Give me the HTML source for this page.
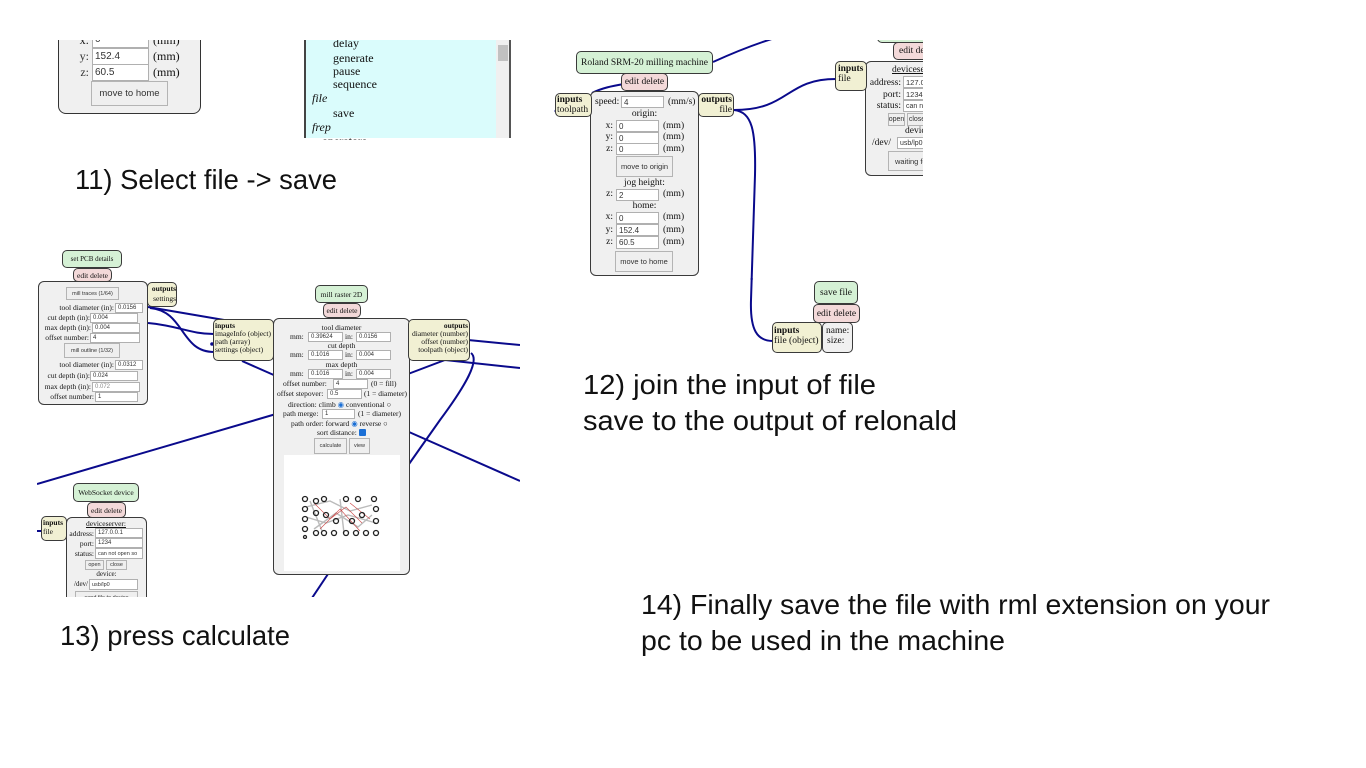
<!DOCTYPE html>
<html><head><meta charset="utf-8">
<style>
html,body{margin:0;padding:0;background:#fff;}
body{width:1366px;height:768px;position:relative;overflow:hidden;}
.clip{position:absolute;left:0;top:0;width:1366px;height:768px;}
.a{position:absolute;box-sizing:border-box;}
.box{position:absolute;box-sizing:border-box;border:1px solid #3a3a3a;border-radius:5px;}
.g{background:#d5f1d5;}
.p{background:#f3d9d9;}
.y{background:#f1f0d3;}
.b{background:#f0f0f0;}
.t{position:absolute;white-space:nowrap;font-family:"Liberation Serif",serif;line-height:1;color:#111;}
.c{display:flex;align-items:center;justify-content:center;font-family:"Liberation Serif",serif;color:#111;white-space:nowrap;}
.in{position:absolute;box-sizing:border-box;background:#fff;border:1px solid #b0b0b0;font-family:"Liberation Sans",sans-serif;color:#333;white-space:nowrap;overflow:hidden;padding-left:2px;display:flex;align-items:center;}
.bt{position:absolute;box-sizing:border-box;background:#efefef;border:1px solid #b4b4b4;font-family:"Liberation Sans",sans-serif;color:#333;white-space:nowrap;display:flex;align-items:center;justify-content:center;}
</style></head><body>

<!-- ============ Crop A: top-left ============ -->
<div class="clip" style="clip-path:inset(40px 846px 628px 40px);">
  <div class="box b" style="left:58px;top:10px;width:143px;height:104px;border-radius:8px;border:1.5px solid #333;"></div>
  <div class="t" style="left:70px;top:34px;width:19px;text-align:right;font-size:12px;">x:</div>
  <div class="in" style="left:92px;top:31px;width:57px;height:17px;font-size:10px;">0</div>
  <div class="t" style="left:153px;top:34px;font-size:12px;">(mm)</div>
  <div class="t" style="left:70px;top:50px;width:19px;text-align:right;font-size:12px;color:#333;">y:</div>
  <div class="in" style="left:92px;top:48px;width:57px;height:17px;font-size:10px;">152.4</div>
  <div class="t" style="left:153px;top:50px;font-size:12px;">(mm)</div>
  <div class="t" style="left:70px;top:66px;width:19px;text-align:right;font-size:12px;color:#333;">z:</div>
  <div class="in" style="left:92px;top:64px;width:57px;height:17px;font-size:10px;">60.5</div>
  <div class="t" style="left:153px;top:66px;font-size:12px;">(mm)</div>
  <div class="bt" style="left:91px;top:81px;width:77px;height:25px;font-size:9.5px;">move to home</div>

  <div class="a" style="left:304px;top:20px;width:207px;height:118px;background:#dafcfc;border-left:2px solid #444;border-right:2px solid #555;"></div>
  <div class="a" style="left:496px;top:20px;width:13px;height:118px;background:#f0f0f0;"></div>
  <div class="a" style="left:498px;top:45px;width:10px;height:16px;background:#c1c1c1;"></div>
  <div class="t" style="left:333px;top:37px;font-size:12px;">delay</div>
  <div class="t" style="left:333px;top:52px;font-size:12px;">generate</div>
  <div class="t" style="left:333px;top:65px;font-size:12px;">pause</div>
  <div class="t" style="left:333px;top:78px;font-size:12px;">sequence</div>
  <div class="t" style="left:312px;top:92px;font-size:12px;font-style:italic;">file</div>
  <div class="t" style="left:333px;top:107px;font-size:12px;">save</div>
  <div class="t" style="left:312px;top:121px;font-size:12px;font-style:italic;">frep</div>
  <div class="t" style="left:322px;top:135px;font-size:12px;">operators</div>
</div>

<!-- ============ Crop B: top-right ============ -->
<div class="clip" style="clip-path:inset(40px 443px 488px 550px);">
  <svg class="a" style="left:0;top:0;" width="1366" height="768">
    <g fill="none" stroke="#0a0a8c" stroke-width="2">
      <path d="M713,62 C735,52 752,45 775,38"/>
      <path d="M592,93 C602,88 612,86 624,84"/>
      <path d="M734,110 C790,110 785,79 836,79"/>
      <path d="M734,110 C752,112 756,130 755,175 L751,300 C750,330 757,341 773,341"/>
    </g>
    <circle cx="556" cy="111" r="1.5" fill="#0a0a8c"/>
  </svg>
  <div class="box g c" style="left:576px;top:51px;width:137px;height:23px;font-size:9.5px;">Roland SRM-20 milling machine</div>
  <div class="box b" style="left:590px;top:91px;width:109px;height:185px;border-radius:6px;"></div>
  <div class="box p c" style="left:621px;top:73px;width:47px;height:18px;font-size:9.5px;">edit delete</div>
  <div class="box y" style="left:555px;top:93px;width:37px;height:24px;"></div>
  <div class="t" style="left:557px;top:96px;font-size:9.5px;font-weight:bold;">inputs</div>
  <div class="t" style="left:557px;top:106px;font-size:9.5px;">toolpath</div>
  <div class="box y" style="left:698px;top:93px;width:36px;height:24px;"></div>
  <div class="t" style="left:698px;top:96px;width:34px;text-align:right;font-size:9.5px;font-weight:bold;">outputs</div>
  <div class="t" style="left:698px;top:106px;width:34px;text-align:right;font-size:9.5px;">file</div>

  <div class="t" style="left:595px;top:98px;font-size:9.5px;">speed:</div>
  <div class="in" style="left:621px;top:96px;width:43px;height:12px;font-size:8px;">4</div>
  <div class="t" style="left:668px;top:98px;font-size:9.5px;">(mm/s)</div>
  <div class="t" style="left:590px;top:110px;width:109px;text-align:center;font-size:9.5px;">origin:</div>
  <div class="t" style="left:600px;top:122px;width:13px;text-align:right;font-size:9.5px;">x:</div>
  <div class="in" style="left:616px;top:120px;width:43px;height:12px;font-size:8px;">0</div>
  <div class="t" style="left:663px;top:122px;font-size:9.5px;">(mm)</div>
  <div class="t" style="left:600px;top:133px;width:13px;text-align:right;font-size:9.5px;">y:</div>
  <div class="in" style="left:616px;top:132px;width:43px;height:12px;font-size:8px;">0</div>
  <div class="t" style="left:663px;top:133px;font-size:9.5px;">(mm)</div>
  <div class="t" style="left:600px;top:145px;width:13px;text-align:right;font-size:9.5px;">z:</div>
  <div class="in" style="left:616px;top:143px;width:43px;height:12px;font-size:8px;">0</div>
  <div class="t" style="left:663px;top:145px;font-size:9.5px;">(mm)</div>
  <div class="bt" style="left:616px;top:156px;width:57px;height:21px;font-size:7.5px;">move to origin</div>
  <div class="t" style="left:590px;top:179px;width:109px;text-align:center;font-size:9.5px;">jog height:</div>
  <div class="t" style="left:600px;top:190px;width:13px;text-align:right;font-size:9.5px;">z:</div>
  <div class="in" style="left:616px;top:189px;width:43px;height:12px;font-size:8px;">2</div>
  <div class="t" style="left:663px;top:190px;font-size:9.5px;">(mm)</div>
  <div class="t" style="left:590px;top:202px;width:109px;text-align:center;font-size:9.5px;">home:</div>
  <div class="t" style="left:600px;top:213px;width:13px;text-align:right;font-size:9.5px;">x:</div>
  <div class="in" style="left:616px;top:212px;width:43px;height:12px;font-size:8px;">0</div>
  <div class="t" style="left:663px;top:213px;font-size:9.5px;">(mm)</div>
  <div class="t" style="left:600px;top:226px;width:13px;text-align:right;font-size:9.5px;">y:</div>
  <div class="in" style="left:616px;top:224px;width:43px;height:12px;font-size:8px;">152.4</div>
  <div class="t" style="left:663px;top:226px;font-size:9.5px;">(mm)</div>
  <div class="t" style="left:600px;top:238px;width:13px;text-align:right;font-size:9.5px;">z:</div>
  <div class="in" style="left:616px;top:236px;width:43px;height:13px;font-size:8px;">60.5</div>
  <div class="t" style="left:663px;top:238px;font-size:9.5px;">(mm)</div>
  <div class="bt" style="left:615px;top:251px;width:58px;height:21px;font-size:7.5px;">move to home</div>

  <!-- right device panel -->
  <div class="box g" style="left:877px;top:25px;width:70px;height:18px;"></div>
  <div class="box b" style="left:865px;top:61px;width:80px;height:115px;border-radius:6px;"></div>
  <div class="box p c" style="left:893px;top:42px;width:45px;height:18px;font-size:9.5px;justify-content:flex-start;padding-left:5px;">edit delete</div>
  <div class="box y" style="left:835px;top:61px;width:32px;height:30px;"></div>
  <div class="t" style="left:838px;top:65px;font-size:9.5px;font-weight:bold;">inputs</div>
  <div class="t" style="left:838px;top:75px;font-size:9.5px;">file</div>
  <div class="t" style="left:892px;top:66px;font-size:9.5px;text-decoration:underline;">deviceserver:</div>
  <div class="t" style="left:868px;top:79px;width:33px;text-align:right;font-size:9.5px;">address:</div>
  <div class="in" style="left:903px;top:76px;width:40px;height:12px;font-size:7.5px;">127.0.0.1</div>
  <div class="t" style="left:868px;top:91px;width:33px;text-align:right;font-size:9.5px;">port:</div>
  <div class="in" style="left:903px;top:88px;width:40px;height:12px;font-size:7.5px;">1234</div>
  <div class="t" style="left:868px;top:102px;width:33px;text-align:right;font-size:9.5px;">status:</div>
  <div class="in" style="left:903px;top:100px;width:40px;height:12px;font-size:7px;">can not open</div>
  <div class="bt" style="left:888px;top:113px;width:17px;height:13px;font-size:7px;">open</div>
  <div class="bt" style="left:907px;top:113px;width:20px;height:13px;font-size:7px;">close</div>
  <div class="t" style="left:905px;top:127px;font-size:9.5px;">device:</div>
  <div class="t" style="left:872px;top:139px;font-size:9.5px;">/dev/</div>
  <div class="in" style="left:897px;top:137px;width:40px;height:12px;font-size:7px;">usb/lp0</div>
  <div class="bt" style="left:888px;top:151px;width:50px;height:20px;font-size:7.5px;justify-content:flex-start;padding-left:6px;">waiting for</div>
</div>

<!-- save file region -->
<div class="clip" style="clip-path:inset(278px 443px 410px 740px);">
  <svg class="a" style="left:0;top:0;" width="1366" height="768">
    <path d="M755,175 L751,300 C750,330 757,341 773,341" fill="none" stroke="#0a0a8c" stroke-width="2"/>
  </svg>
  <div class="box g c" style="left:814px;top:281px;width:44px;height:23px;font-size:9.5px;">save file</div>
  <div class="box p c" style="left:813px;top:304px;width:47px;height:19px;font-size:9.5px;">edit delete</div>
  <div class="box y" style="left:772px;top:322px;width:50px;height:31px;"></div>
  <div class="t" style="left:774px;top:327px;font-size:9.5px;font-weight:bold;">inputs</div>
  <div class="t" style="left:774px;top:337px;font-size:9.5px;">file (object)</div>
  <div class="box b" style="left:822px;top:322px;width:31px;height:31px;"></div>
  <div class="t" style="left:826px;top:327px;font-size:9.5px;">name:</div>
  <div class="t" style="left:827px;top:337px;font-size:9.5px;">size:</div>
</div>

<!-- ============ Crop C: bottom-left ============ -->
<div class="clip" style="clip-path:inset(245px 846px 171px 37px);">
  <svg class="a" style="left:0;top:0;" width="1366" height="768">
    <g fill="none" stroke="#0a0a8c" stroke-width="2">
      <path d="M148,307 L230,321"/>
      <path d="M150,308 C185,311 180,352 214,352"/>
      <path d="M148,323 C180,326 190,334 214,334"/>
      <path d="M242,361 L276,376"/>
      <path d="M37,484 L276,414"/>
      <path d="M408,374 L445,360 L520,368"/>
      <path d="M468,340 L520,345"/>
      <path d="M471,353 C480,360 466,385 440,420 L409,464"/>
      <path d="M328,574 L312,598"/>
      <path d="M409,432 L520,481"/>
      <path d="M37,531 L42,531"/>
    </g>
    <circle cx="212" cy="344" r="1.8" fill="#0a0a8c"/>
  </svg>

  <!-- set PCB details -->
  <div class="box g c" style="left:62px;top:250px;width:60px;height:18px;font-size:7px;">set PCB details</div>
  <div class="box b" style="left:38px;top:281px;width:110px;height:124px;border-radius:6px;"></div>
  <div class="box p c" style="left:73px;top:268px;width:39px;height:14px;font-size:7.5px;">edit delete</div>
  <div class="box y" style="left:147px;top:282px;width:30px;height:25px;"></div>
  <div class="t" style="left:147px;top:285px;width:29px;text-align:right;font-size:7.5px;font-weight:bold;">outputs</div>
  <div class="t" style="left:147px;top:295px;width:29px;text-align:right;font-size:7.5px;">settings</div>
  <div class="bt" style="left:66px;top:287px;width:53px;height:13px;font-size:5.5px;">mill traces (1/64)</div>
  <div class="t" style="left:38px;top:304px;width:76px;text-align:right;font-size:7.5px;">tool diameter (in):</div>
  <div class="in" style="left:115px;top:303px;width:28px;height:10px;font-size:6px;">0.0156</div>
  <div class="t" style="left:38px;top:314px;width:52px;text-align:right;font-size:7.5px;">cut depth (in):</div>
  <div class="in" style="left:90px;top:313px;width:48px;height:10px;font-size:6px;">0.004</div>
  <div class="t" style="left:38px;top:324px;width:53px;text-align:right;font-size:7.5px;">max depth (in):</div>
  <div class="in" style="left:92px;top:323px;width:48px;height:10px;font-size:6px;">0.004</div>
  <div class="t" style="left:38px;top:334px;width:51px;text-align:right;font-size:7.5px;">offset number:</div>
  <div class="in" style="left:90px;top:333px;width:50px;height:10px;font-size:6px;">4</div>
  <div class="bt" style="left:64px;top:343px;width:56px;height:15px;font-size:5.5px;">mill outline (1/32)</div>
  <div class="t" style="left:38px;top:361px;width:76px;text-align:right;font-size:7.5px;">tool diameter (in):</div>
  <div class="in" style="left:115px;top:360px;width:28px;height:10px;font-size:6px;">0.0312</div>
  <div class="t" style="left:38px;top:372px;width:52px;text-align:right;font-size:7.5px;">cut depth (in):</div>
  <div class="in" style="left:90px;top:371px;width:48px;height:10px;font-size:6px;">0.024</div>
  <div class="t" style="left:38px;top:383px;width:53px;text-align:right;font-size:7.5px;">max depth (in):</div>
  <div class="in" style="left:92px;top:382px;width:48px;height:10px;font-size:6px;color:#888;">0.072</div>
  <div class="t" style="left:38px;top:393px;width:56px;text-align:right;font-size:7.5px;">offset number:</div>
  <div class="in" style="left:95px;top:392px;width:43px;height:10px;font-size:6px;">1</div>

  <!-- mill raster 2D -->
  <div class="box g c" style="left:315px;top:285px;width:53px;height:18px;font-size:7.5px;">mill raster 2D</div>
  <div class="box b" style="left:273px;top:318px;width:137px;height:257px;border-radius:6px;"></div>
  <div class="box p c" style="left:323px;top:303px;width:38px;height:15px;font-size:7.5px;">edit delete</div>
  <div class="box y" style="left:213px;top:319px;width:61px;height:42px;"></div>
  <div class="t" style="left:215px;top:322px;font-size:7.5px;font-weight:bold;">inputs</div>
  <div class="t" style="left:215px;top:330px;font-size:7.5px;">imageInfo (object)</div>
  <div class="t" style="left:215px;top:338px;font-size:7.5px;">path (array)</div>
  <div class="t" style="left:215px;top:346px;font-size:7.5px;">settings (object)</div>
  <div class="box y" style="left:408px;top:319px;width:62px;height:42px;"></div>
  <div class="t" style="left:408px;top:322px;width:60px;text-align:right;font-size:7.5px;font-weight:bold;">outputs</div>
  <div class="t" style="left:408px;top:330px;width:60px;text-align:right;font-size:7.5px;">diameter (number)</div>
  <div class="t" style="left:408px;top:338px;width:60px;text-align:right;font-size:7.5px;">offset (number)</div>
  <div class="t" style="left:408px;top:346px;width:60px;text-align:right;font-size:7.5px;">toolpath (object)</div>

  <div class="t" style="left:273px;top:324px;width:137px;text-align:center;font-size:7.5px;">tool diameter</div>
  <div class="t" style="left:290px;top:333px;font-size:7.5px;">mm:</div>
  <div class="in" style="left:308px;top:332px;width:35px;height:10px;font-size:6px;">0.39624</div>
  <div class="t" style="left:345px;top:333px;font-size:7.5px;">in:</div>
  <div class="in" style="left:356px;top:332px;width:35px;height:10px;font-size:6px;">0.0156</div>
  <div class="t" style="left:273px;top:342px;width:137px;text-align:center;font-size:7.5px;">cut depth</div>
  <div class="t" style="left:290px;top:351px;font-size:7.5px;">mm:</div>
  <div class="in" style="left:308px;top:350px;width:35px;height:10px;font-size:6px;">0.1016</div>
  <div class="t" style="left:345px;top:351px;font-size:7.5px;">in:</div>
  <div class="in" style="left:356px;top:350px;width:35px;height:10px;font-size:6px;">0.004</div>
  <div class="t" style="left:273px;top:361px;width:137px;text-align:center;font-size:7.5px;">max depth</div>
  <div class="t" style="left:290px;top:370px;font-size:7.5px;">mm:</div>
  <div class="in" style="left:308px;top:369px;width:35px;height:10px;font-size:6px;">0.1016</div>
  <div class="t" style="left:345px;top:370px;font-size:7.5px;">in:</div>
  <div class="in" style="left:356px;top:369px;width:35px;height:10px;font-size:6px;">0.004</div>
  <div class="t" style="left:283px;top:380px;font-size:7.5px;">offset number:</div>
  <div class="in" style="left:333px;top:379px;width:35px;height:10px;font-size:6px;">4</div>
  <div class="t" style="left:371px;top:380px;font-size:7.5px;">(0 = fill)</div>
  <div class="t" style="left:277px;top:390px;font-size:7.5px;">offset stepover:</div>
  <div class="in" style="left:327px;top:389px;width:35px;height:10px;font-size:6px;">0.5</div>
  <div class="t" style="left:364px;top:390px;font-size:7.5px;">(1 = diameter)</div>
  <div class="t" style="left:288px;top:401px;font-size:7.5px;">direction: climb <span style="color:#1a6fd6">&#9673;</span> conventional &#9675;</div>
  <div class="t" style="left:283px;top:410px;font-size:7.5px;">path merge:</div>
  <div class="in" style="left:322px;top:409px;width:33px;height:10px;font-size:6px;">1</div>
  <div class="t" style="left:358px;top:410px;font-size:7.5px;">(1 = diameter)</div>
  <div class="t" style="left:291px;top:420px;font-size:7.5px;">path order: forward <span style="color:#1a6fd6">&#9673;</span> reverse &#9675;</div>
  <div class="t" style="left:317px;top:429px;font-size:7.5px;">sort distance:</div>
  <div class="a" style="left:359px;top:429px;width:7px;height:7px;background:#1a6fd6;border-radius:1px;"></div>
  <div class="bt" style="left:314px;top:438px;width:33px;height:16px;font-size:5.5px;">calculate</div>
  <div class="bt" style="left:349px;top:438px;width:21px;height:16px;font-size:5.5px;">view</div>
  <div class="a" style="left:284px;top:455px;width:116px;height:116px;background:#fff;"></div>
  <svg class="a" style="left:300px;top:493px;" width="84" height="46" viewBox="0 0 84 46">
    <g stroke="#bbb" stroke-width="1.4" fill="none">
      <path d="M6,14 L30,8 L50,18 L72,12"/><path d="M6,24 L26,30 L48,22 L76,30"/>
      <path d="M14,36 L36,20 L58,34 L72,22"/><path d="M10,8 L22,38"/><path d="M40,6 L44,40"/>
    </g>
    <g stroke="#c44" stroke-width="0.6" fill="none">
      <path d="M14,10 L30,26 L46,14 L62,30"/><path d="M20,36 L40,16 L60,38"/><path d="M50,10 L70,26"/>
    </g>
    <g stroke="#222" stroke-width="1.3" fill="none">
      <circle cx="5" cy="6" r="2.5"/><circle cx="5" cy="16" r="2.5"/><circle cx="5" cy="26" r="2.5"/><circle cx="5" cy="36" r="2.5"/><circle cx="5" cy="44" r="1.5"/>
      <circle cx="16" cy="8" r="2.5"/><circle cx="24" cy="6" r="2.5"/><circle cx="16" cy="20" r="2.5"/><circle cx="26" cy="22" r="2.5"/>
      <circle cx="16" cy="40" r="2.5"/><circle cx="24" cy="40" r="2.5"/><circle cx="34" cy="40" r="2.5"/><circle cx="46" cy="40" r="2.5"/>
      <circle cx="56" cy="40" r="2.5"/><circle cx="66" cy="40" r="2.5"/><circle cx="76" cy="40" r="2.5"/>
      <circle cx="46" cy="6" r="2.5"/><circle cx="58" cy="6" r="2.5"/><circle cx="74" cy="6" r="2.5"/>
      <circle cx="76" cy="16" r="2.5"/><circle cx="76" cy="28" r="2.5"/><circle cx="36" cy="28" r="2.5"/><circle cx="52" cy="28" r="2.5"/><circle cx="62" cy="22" r="2.5"/>
    </g>
  </svg>

  <!-- WebSocket device -->
  <div class="box g c" style="left:73px;top:483px;width:66px;height:19px;font-size:7.5px;">WebSocket device</div>
  <div class="box b" style="left:66px;top:517px;width:81px;height:100px;border-radius:6px;"></div>
  <div class="box p c" style="left:87px;top:502px;width:39px;height:16px;font-size:7.5px;">edit delete</div>
  <div class="box y" style="left:41px;top:516px;width:26px;height:25px;"></div>
  <div class="t" style="left:43px;top:519px;font-size:7.5px;font-weight:bold;">inputs</div>
  <div class="t" style="left:43px;top:528px;font-size:7.5px;">file</div>
  <div class="t" style="left:86px;top:520px;font-size:7.5px;text-decoration:underline;">deviceserver:</div>
  <div class="t" style="left:66px;top:530px;width:28px;text-align:right;font-size:7.5px;">address:</div>
  <div class="in" style="left:95px;top:528px;width:48px;height:10px;font-size:6px;">127.0.0.1</div>
  <div class="t" style="left:66px;top:540px;width:28px;text-align:right;font-size:7.5px;">port:</div>
  <div class="in" style="left:95px;top:538px;width:48px;height:10px;font-size:6px;">1234</div>
  <div class="t" style="left:66px;top:550px;width:28px;text-align:right;font-size:7.5px;">status:</div>
  <div class="in" style="left:95px;top:548px;width:48px;height:11px;font-size:5.5px;">can not open so</div>
  <div class="bt" style="left:85px;top:560px;width:19px;height:10px;font-size:5.5px;">open</div>
  <div class="bt" style="left:106px;top:560px;width:21px;height:10px;font-size:5.5px;">close</div>
  <div class="t" style="left:66px;top:571px;width:81px;text-align:center;font-size:7px;">device:</div>
  <div class="t" style="left:74px;top:581px;font-size:7px;">/dev/</div>
  <div class="in" style="left:89px;top:579px;width:49px;height:11px;font-size:5.5px;">usb/lp0</div>
  <div class="bt" style="left:75px;top:591px;width:63px;height:14px;font-size:5.5px;">send file to device</div>
</div>

<!-- ============ Big instruction labels ============ -->
<svg class="a" style="left:0;top:0;" width="1366" height="768">
  <g font-family="Liberation Sans, sans-serif" font-size="28" fill="#111">
    <text x="75" y="189" textLength="262" lengthAdjust="spacingAndGlyphs">11) Select file -&gt; save</text>
    <text x="583" y="394" textLength="293" lengthAdjust="spacingAndGlyphs">12) join the input of file</text>
    <text x="583" y="430" textLength="374" lengthAdjust="spacingAndGlyphs">save to the output of relonald</text>
    <text x="60" y="645" textLength="230" lengthAdjust="spacingAndGlyphs">13) press calculate</text>
    <text x="641" y="614" textLength="629" lengthAdjust="spacingAndGlyphs">14) Finally save the file with rml extension on your</text>
    <text x="641" y="650" textLength="364" lengthAdjust="spacingAndGlyphs">pc to be used in the machine</text>
  </g>
</svg>
</body></html>
